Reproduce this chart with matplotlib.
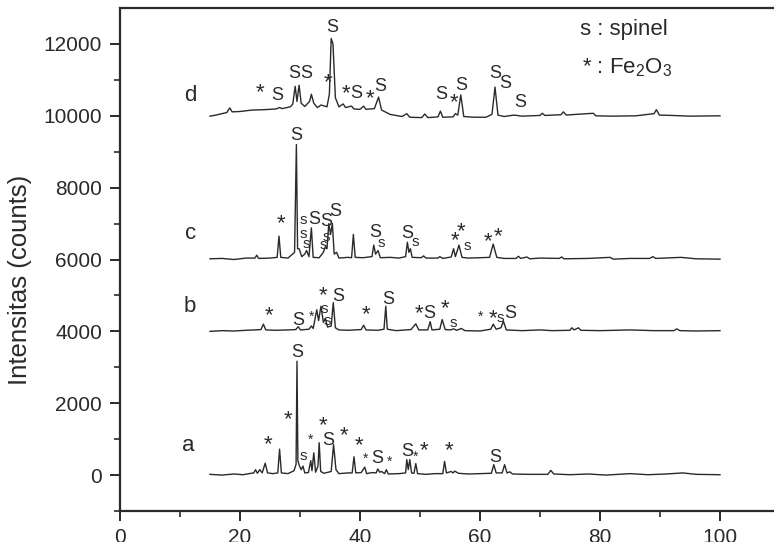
import numpy as np
import matplotlib
matplotlib.use("Agg")
from matplotlib import pyplot as plt

plt.rcParams['font.family'] = ['Liberation Sans', 'DejaVu Sans']
plt.rcParams['mathtext.default'] = 'regular'

INK = '#2a2a2a'

# XRD traces: (2theta, counts above the pattern's baseline)
pattern_a = [(15, 20), (17, 0), (19, 30), (20.5, 10), (21.5, 40), (22.3, 60), (22.6, 150), (22.9, 50),
             (23.3, 150), (23.7, 60), (24.2, 330), (24.6, 60), (25.5, 40), (26.3, 60), (26.6, 720),
             (26.9, 60), (28, 40), (29.0, 120), (29.35, 300), (29.5, 3170), (29.65, 400), (29.9, 260),
             (30.2, 150), (30.5, 250), (30.8, 60), (31.4, 70), (31.8, 400), (32.0, 120), (32.3, 620),
             (32.6, 80), (33.0, 250), (33.2, 900), (33.45, 100), (34.0, 50), (35.2, 100), (35.6, 850),
             (36.0, 150), (36.5, 40), (38.0, 60), (38.7, 60), (39.0, 510), (39.3, 60), (40.2, 70),
             (40.8, 220), (41.1, 40), (42.0, 70), (42.7, 60), (42.95, 170), (43.3, 80), (43.6, 100),
             (44.1, 40), (44.4, 150), (44.7, 30), (46.5, 40), (47.6, 60), (47.8, 430), (48.05, 150),
             (48.3, 430), (48.6, 60), (49.0, 50), (49.3, 320), (49.6, 40), (51, 20), (52.5, 40),
             (53.8, 40), (54.1, 380), (54.4, 60), (55.2, 100), (55.5, 60), (55.8, 110), (56.4, 50),
             (58, 30), (60, 40), (61.9, 50), (62.3, 290), (62.7, 60), (63.7, 60), (64.1, 290),
             (64.5, 60), (65.0, 90), (65.4, 30), (68, 20), (71.3, 20), (71.8, 130), (72.3, 30),
             (75, 10), (78, 30), (81, 0), (85, 40), (88, 10), (91, 30), (93.8, 60), (96, 20), (100, 10)]

pattern_b = [(15, 0), (17, 20), (19, 10), (21, 30), (22.5, 40), (23.5, 50), (23.9, 200), (24.3, 40),
             (26, 30), (28, 40), (29.3, 50), (29.7, 130), (30.1, 40), (31.5, 60), (31.9, 150), (32.2, 80),
             (32.8, 600), (33.1, 300), (33.5, 700), (33.9, 250), (34.2, 360), (34.6, 120), (35.2, 150),
             (35.55, 800), (35.9, 100), (36.5, 40), (38, 30), (40.2, 50), (40.6, 170), (41.0, 40),
             (43, 30), (44.0, 60), (44.3, 700), (44.55, 60), (46, 20), (48.5, 50), (49.3, 210),
             (49.8, 40), (51.3, 40), (51.7, 270), (52.0, 40), (53.3, 60), (53.7, 330), (54.2, 50),
             (55.1, 40), (55.6, 70), (56.1, 30), (56.9, 80), (57.5, 20), (60, 10), (61.8, 60),
             (62.2, 200), (62.7, 60), (63.5, 100), (63.9, 280), (64.4, 40), (67, 20), (70, 40),
             (72, 20), (75.0, 30), (75.3, 100), (75.7, 40), (76.4, 100), (76.8, 30), (80, 20), (85, 40),
             (89, 20), (92.3, 20), (92.8, 70), (93.3, 20), (96, 10), (100, 20)]

pattern_c = [(15, 20), (17, 30), (19, 0), (21, 40), (22.5, 40), (22.8, 120), (23.1, 30), (25, 40),
             (26.2, 60), (26.5, 650), (26.8, 60), (28, 40), (29.1, 200), (29.4, 3200), (29.6, 300),
             (29.85, 300), (30.3, 80), (30.8, 150), (31.1, 250), (31.5, 80), (31.9, 880), (32.2, 60),
             (33.2, 50), (33.9, 200), (34.2, 350), (34.5, 300), (34.8, 1000), (35.1, 700), (35.4, 1000),
             (35.7, 150), (36.1, 200), (36.5, 40), (38.0, 60), (38.6, 50), (38.9, 700), (39.2, 60),
             (40.5, 50), (42.0, 80), (42.3, 400), (42.6, 150), (43.0, 250), (43.4, 50), (45, 60),
             (46.5, 40), (47.6, 80), (47.9, 480), (48.15, 200), (48.4, 300), (48.7, 60), (50.2, 50),
             (50.6, 100), (51.0, 40), (53.0, 40), (53.3, 80), (53.8, 30), (55.2, 70), (55.6, 300),
             (55.9, 80), (56.5, 400), (57.0, 60), (58, 40), (60, 50), (61.6, 60), (62.2, 430),
             (62.8, 60), (64, 30), (66.0, 30), (66.4, 90), (66.8, 30), (67.8, 70), (68.3, 20), (70, 40),
             (73.2, 30), (73.6, 70), (74.0, 20), (78, 30), (81.7, 60), (82.2, 10), (85, 30), (88.3, 30),
             (88.8, 80), (89.3, 30), (93.5, 60), (96, 20), (100, 10)]

pattern_d = [(15, -10), (16, 20), (17, 60), (17.8, 90), (18.3, 220), (18.7, 110), (20, 120), (22, 160),
             (24, 170), (26, 190), (26.6, 230), (27, 200), (28.4, 250), (28.8, 330), (29.2, 820),
             (29.5, 400), (29.85, 850), (30.2, 350), (30.8, 260), (31.6, 400), (31.9, 600), (32.3, 350),
             (32.9, 230), (33.5, 300), (34.5, 250), (34.9, 600), (35.2, 2150), (35.5, 2000), (35.9, 500),
             (36.5, 250), (37.2, 330), (37.6, 230), (38.6, 270), (39.0, 190), (40.0, 180), (40.6, 270),
             (41.0, 180), (42.4, 200), (43.1, 520), (43.6, 160), (45, 40), (47, -20), (47.8, 60),
             (48.3, -40), (50.3, -50), (50.8, 50), (51.3, -50), (53.0, -30), (53.4, 130), (53.8, -40),
             (55.5, -30), (55.9, 60), (56.3, 20), (56.8, 580), (57.3, -20), (59, -40), (61, -40),
             (62.0, 40), (62.5, 800), (63.0, 20), (64, -20), (65.7, 20), (67, -10), (70, 10),
             (70.4, 70), (70.8, 10), (73.5, 30), (73.9, 110), (74.4, 20), (76, 40), (78.9, 70),
             (79.3, 0), (82, -10), (86, 0), (89.0, 60), (89.4, 170), (89.9, 20), (92, 10), (95, -10),
             (100, 0)]

baselines = {'a': 0, 'b': 4000, 'c': 6000, 'd': 10000}
traces = {'a': pattern_a, 'b': pattern_b, 'c': pattern_c, 'd': pattern_d}
name_pos = {'a': (11.3, 830), 'b': (11.7, 4700), 'c': (11.7, 6720), 'd': (11.8, 10560)}

# peak markers: S = spinel, s = small spinel, * = Fe2O3, . = small Fe2O3
marks_a = [(24.7, 1050, '*'), (28.05, 1740, '*'), (29.5, 3470, 'S'), (30.55, 540, 's'), (31.7, 1090, '.'),
           (33.9, 1580, '*'), (34.7, 1020, 'S'), (37.3, 1300, '*'), (39.8, 1020, '*'), (40.95, 580, '.'),
           (42.8, 520, 'S'), (44.9, 490, '.'), (47.9, 700, 'S'), (49.3, 630, '.'), (50.7, 880, '*'),
           (54.8, 880, '*'), (62.5, 540, 'S')]
marks_b = [(24.9, 4630, '*'), (29.7, 4360, 'S'), (31.95, 4520, '.'), (33.8, 5190, '*'), (34.0, 4610, 's'),
           (34.6, 4290, 's'), (36.4, 5030, 'S'), (41.0, 4680, '*'), (44.7, 4940, 'S'), (49.9, 4690, '*'),
           (51.5, 4550, 'S'), (54.2, 4830, '*'), (55.55, 4220, 's'), (60.1, 4520, '.'), (62.2, 4560, '*'),
           (63.45, 4380, 's'), (65.0, 4560, 'S')]
marks_c = [(29.3, 9500, 'S'), (26.8, 7200, '*'), (30.6, 7110, 's'), (32.3, 7160, 'S'), (34.3, 7110, 'S'),
           (35.8, 7390, 'S'), (30.55, 6720, 's'), (31.0, 6420, 's'), (34.45, 6630, 's'), (33.9, 6390, 's'),
           (42.6, 6810, 'S'), (43.6, 6460, 's'), (47.9, 6770, 'S'), (49.2, 6490, 's'), (55.8, 6720, '*'),
           (56.8, 6970, '*'), (57.95, 6370, 's'), (61.4, 6700, '*'), (63.05, 6850, '*')]
marks_d = [(23.3, 10860, '*'), (26.2, 10610, 'S'), (29.0, 11230, 'S'), (31.0, 11230, 'S'), (35.3, 12500, 'S'),
           (34.7, 11140, '*'), (37.6, 10830, '*'), (39.45, 10680, 'S'), (41.7, 10680, '*'), (43.3, 10860, 'S'),
           (53.6, 10650, 'S'), (55.7, 10580, '*'), (56.8, 10910, 'S'), (62.5, 11230, 'S'), (64.2, 10950, 'S'),
           (66.7, 10430, 'S')]

mark_style = {'S': ('S', 13, 0.36), 's': ('s', 11, 0.26), '*': ('*', 16, 0.58), '.': ('*', 10, 0.58)}

fig = plt.figure(figsize=(7.74, 5.42), dpi=100)
ax = fig.add_axes([0.155, 0.0572, 0.845, 0.928])

for key in ['a', 'b', 'c', 'd']:
    arr = np.array(traces[key], dtype=float)
    ax.plot(arr[:, 0], arr[:, 1] + baselines[key], color=INK, lw=1.0)
    nx, ny = name_pos[key]
    ax.text(nx, ny, key, fontsize=16, color=INK, ha='center', va='center')

for marks in [marks_a, marks_b, marks_c, marks_d]:
    for x, y, kind in marks:
        ch, size, lift = mark_style[kind]
        ax.annotate(ch, (x, y), xytext=(0, -lift * size), textcoords='offset points',
                    ha='center', va='baseline', fontsize=size, color=INK)

ax.text(76.7, 12390, 's : spinel', fontsize=16, color=INK, ha='left', va='center')
ax.text(77.0, 11330, '* : Fe$_2$O$_3$', fontsize=16, color=INK, ha='left', va='center')

ax.set_xlim(0, 109)
ax.set_ylim(-1000, 13000)
ax.set_xticks(np.arange(0, 101, 20))
ax.set_xticks(np.arange(10, 101, 20), minor=True)
ax.set_yticks(np.arange(0, 12001, 2000))
ax.set_yticks(np.arange(-1000, 13000, 1000), minor=True)
ax.tick_params(which='major', length=7, width=1.4, labelsize=15, colors=INK)
ax.tick_params(which='minor', length=4, width=1.2, colors=INK)
ax.tick_params(axis='x', pad=5)
ax.tick_params(axis='y', pad=6)
ax.spines['right'].set_visible(False)
for side in ['left', 'bottom', 'top']:
    ax.spines[side].set_linewidth(1.6)
    ax.spines[side].set_color(INK)

ax.set_ylabel('Intensitas (counts)', fontsize=18.5, color=INK)
ax.yaxis.set_label_coords(-0.135, 0.46)

fig.savefig('out.png', dpi=100)
